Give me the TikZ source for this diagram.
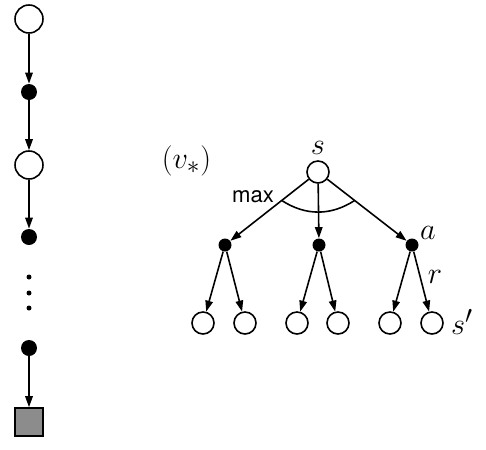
\documentclass[tikz,border=0pt]{standalone}
\usepackage{fontspec}
\usepackage{amsmath, amssymb}
\usetikzlibrary{arrows.meta, calc}
\newfontfamily\helv{TeX Gyre Heros}

\begin{document}
\begin{tikzpicture}[
        big/.style={draw,circle,line width=0.9pt,fill=white,minimum size=0.56cm,inner sep=0pt},
        bigdot/.style={circle,fill=black,minimum size=0.32cm,inner sep=0pt},
        state/.style={draw,circle,line width=0.9pt,fill=white,minimum size=0.44cm,inner sep=0pt},
        act/.style={circle,fill=black,minimum size=0.26cm,inner sep=0pt},
        term/.style={draw,line width=0.9pt,fill=black!45,minimum size=0.56cm,inner sep=0pt},
        arr/.style={-{Triangle[length=2.2mm,width=1.5mm]},line width=0.9pt},
        lbl/.style={font=\fontsize{19}{22}\selectfont,inner sep=0pt}
    ]
        \useasboundingbox (0,0) rectangle (9.72,-9);
        % left column: one sampled episode
        \node[big] (c1) at (0.58,-0.38) {};
        \node[bigdot] (d1) at (0.58,-1.84) {};
        \node[big] (c2) at (0.58,-3.30) {};
        \node[bigdot] (d2) at (0.58,-4.74) {};
        \foreach \y in {-5.54,-5.86,-6.16}
            \fill (0.58,\y) circle (0.05);
        \node[bigdot] (d3) at (0.58,-6.96) {};
        \node[term] (end) at (0.58,-8.44) {};
        \draw[arr] (c1) -- (d1);
        \draw[arr] (d1) -- (c2);
        \draw[arr] (c2) -- (d2);
        \draw[arr] (d3) -- (end);

        % right: backup tree
        \node[state] (root) at (6.36,-3.44) {};
        \foreach \i/\x in {1/4.5,2/6.38,3/8.24} {
            \node[act] (a\i) at (\x,-4.9) {};
            \draw[arr] (root) -- (a\i);
        }
        \foreach \j/\x in {1/4.06,2/4.9,3/5.94,4/6.76,5/7.8,6/8.64}
            \node[state] (l\j) at (\x,-6.46) {};
        \foreach \i/\j in {1/1,1/2,2/3,2/4,3/5,3/6}
            \draw[arr] (a\i) -- (l\j);
        \coordinate (m1) at ($(root)!0.39!(a1)$);
        \coordinate (m3) at ($(root)!0.39!(a3)$);
        \draw[line width=0.9pt] (m1) to[bend right=33] (m3);

        \node[lbl] (slbl) at (6.36,-2.96) {$s$};
        \node[lbl] (albl) at (8.56,-4.66) {$a$};
        \node[lbl] (rlbl) at (8.70,-5.54) {$r$};
        \node[lbl] (splbl) at (9.24,-6.44) {$s'$};
        \node[lbl] (vlbl) at (3.73,-3.22) {$(v_*)$};
        \node[font=\helv\fontsize{12.6}{14}\selectfont,inner sep=0pt] (maxlbl) at (5.06,-3.94) {max};
    \end{tikzpicture}
\end{document}
